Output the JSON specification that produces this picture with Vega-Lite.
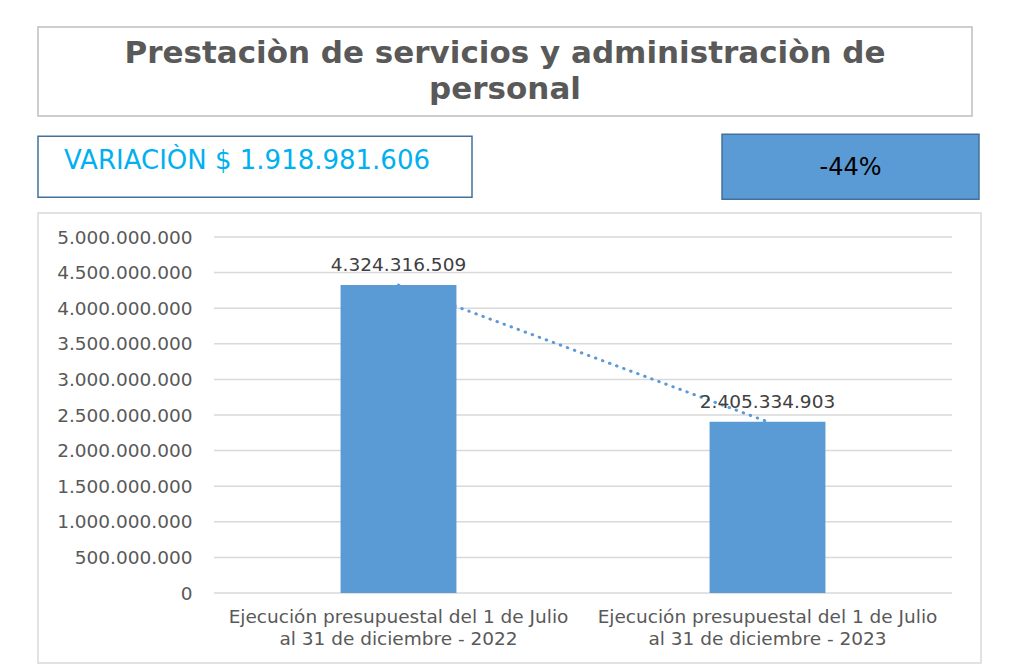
{
  "$schema": "https://vega.github.io/schema/vega-lite/v6.json",
  "background": "white",
  "padding": {"left": 37, "top": 26, "right": 0, "bottom": 0},
  "config": {
    "locale": {"number": {"decimal": ",", "thousands": ".", "grouping": [3], "currency": ["$", ""]}},
    "font": "DejaVu Sans",
    "view": {"stroke": "#d9d9d9"}
  },
  "spacing": 12,
  "vconcat": [
    {
      "spacing": 16,
      "vconcat": [
        {
          "width": 934,
          "height": 89,
          "view": {"stroke": "#bfbfbf", "strokeWidth": 1.5},
          "data": {"values": [{"titulo": "Prestaciòn de servicios y administraciòn de|personal"}]},
          "mark": {"type": "text", "font": "DejaVu Sans", "fontWeight": "bold", "fontSize": 31, "color": "#595959", "lineBreak": "|", "lineHeight": 36, "dy": -18},
          "encoding": {"text": {"field": "titulo", "type": "nominal"}}
        },
        {
          "spacing": 248,
          "center": true,
          "hconcat": [
            {
              "width": 434,
              "height": 61,
              "view": {"stroke": "#41719c", "strokeWidth": 1.5},
              "data": {"values": [{"texto": "VARIACIÒN $ 1.918.981.606"}]},
              "mark": {"type": "text", "fontSize": 26, "color": "#00b0f0", "dx": -8, "dy": -6},
              "encoding": {"text": {"field": "texto", "type": "nominal"}}
            },
            {
              "width": 257,
              "height": 65,
              "view": {"stroke": "#41719c", "strokeWidth": 1.5, "fill": "#5b9bd5"},
              "data": {"values": [{"texto": "-44%"}]},
              "mark": {"type": "text", "fontSize": 24, "color": "#000000", "dy": 1},
              "encoding": {"text": {"field": "texto", "type": "nominal"}}
            }
          ]
        }
      ]
    },
    {
      "width": 943,
      "height": 450,
      "view": {"stroke": "#d9d9d9", "strokeWidth": 1.5},
      "data": {
        "values": [
          {"periodo": "Ejecución presupuestal del 1 de Julio al 31 de diciembre - 2022", "valor": 4324316509},
          {"periodo": "Ejecución presupuestal del 1 de Julio al 31 de diciembre - 2023", "valor": 2405334903}
        ]
      },
      "resolve": {"scale": {"x": "independent"}},
      "layer": [
        {
          "data": {"values": [{"g": 0}, {"g": 500000000}, {"g": 1000000000}, {"g": 1500000000}, {"g": 2000000000}, {"g": 2500000000}, {"g": 3000000000}, {"g": 3500000000}, {"g": 4000000000}, {"g": 4500000000}, {"g": 5000000000}]},
          "mark": {"type": "rule", "color": "#d9d9d9", "strokeWidth": 1.5},
          "encoding": {
            "x": {"datum": 0, "type": "quantitative", "scale": {"domain": [0, 1], "range": [176, 914]}, "axis": null},
            "x2": {"datum": 1},
            "y": {"field": "g", "type": "quantitative", "scale": {"domain": [0, 5000000000], "range": [380, 24], "nice": false}}
          }
        },
        {
          "encoding": {
            "x": {
              "field": "periodo",
              "type": "nominal",
              "sort": null,
              "scale": {"range": [176, 914], "paddingInner": 0.686, "paddingOuter": 0.343},
              "axis": {
                "orient": "bottom",
                "offset": -70,
                "title": null,
                "domain": false,
                "ticks": false,
                "labelAngle": 0,
                "labelPadding": 14,
                "labelFontSize": 18.5,
                "labelColor": "#595959",
                "labelLineHeight": 22,
                "labelLimit": 0,
                "labelExpr": "split(replace(datum.label, ' al ', '|al '), '|')"
              }
            },
            "y": {
              "field": "valor",
              "type": "quantitative",
              "scale": {"domain": [0, 5000000000], "range": [380, 24], "nice": false},
              "axis": {
                "orient": "left",
                "offset": -176,
                "title": null,
                "domain": false,
                "ticks": false,
                "grid": false,
                "values": [0, 500000000, 1000000000, 1500000000, 2000000000, 2500000000, 3000000000, 3500000000, 4000000000, 4500000000, 5000000000],
                "format": ",d",
                "labelPadding": 22,
                "labelFontSize": 18.5,
                "labelColor": "#595959"
              }
            }
          },
          "layer": [
            {
              "mark": {"type": "line", "color": "#5b9bd5", "strokeWidth": 3, "strokeDash": [0.5, 7], "strokeCap": "round"}
            },
            {
              "mark": {"type": "bar", "color": "#5b9bd5"}
            },
            {
              "mark": {"type": "text", "fontSize": 18.5, "color": "#404040", "dy": -20},
              "encoding": {"text": {"field": "valor", "type": "quantitative", "format": ",d"}}
            }
          ]
        }
      ]
    }
  ]
}
